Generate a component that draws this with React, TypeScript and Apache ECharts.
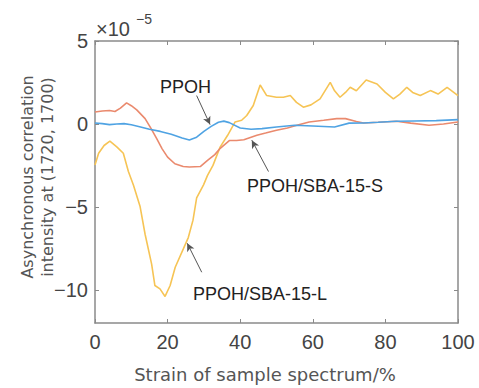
import React, { useEffect, useRef } from "react";
import * as echarts from "echarts";

const xTicks = [0, 20, 40, 60, 80, 100];
const yTicks = [-10, -5, 0, 5];

const ppohX = [0, 2, 4, 6, 8, 10, 12, 15, 18, 21, 24, 26, 28, 30, 32, 34, 35.5, 37, 40, 43, 46, 50, 55, 60, 66, 70, 74, 78, 83, 88, 94, 100];
const ppohY = [0.06, 0.02, -0.04, 0.0, 0.02, -0.05, -0.15, -0.32, -0.45, -0.62, -0.85, -0.97, -0.8, -0.45, -0.15, 0.1, 0.17, 0.08, -0.24, -0.32, -0.28, -0.18, -0.08, -0.12, -0.18, 0.05, 0.06, 0.1, 0.16, 0.18, 0.2, 0.26];

const sX = [0, 2, 4, 5.5, 7, 8.7, 10, 11.5, 13.8, 15.5, 17, 18.5, 20, 22, 24.3, 26, 29, 31, 33, 34.5, 37, 39, 41, 44.6, 47, 50, 53, 55.6, 59, 63, 66.6, 69, 72, 74, 78, 83, 87, 92, 96, 100];
const sY = [0.72, 0.78, 0.81, 0.75, 0.95, 1.27, 1.1, 0.85, 0.32, -0.3, -0.88, -1.5, -2.0, -2.4, -2.57, -2.6, -2.57, -2.2, -1.85, -1.47, -1.0, -1.0, -0.95, -0.68, -0.55, -0.38, -0.25, -0.08, 0.12, 0.22, 0.32, 0.32, 0.15, 0.06, 0.1, 0.16, 0.05, -0.08, 0.0, 0.12];

const lX = [0, 1, 2.5, 4.1, 6, 7.8, 9.2, 10.6, 12.4, 13.8, 15.6, 16.5, 17.9, 19.3, 20.7, 22.1, 24.3, 25.7, 27, 28, 29.9, 31, 32.5, 34.5, 36.5, 38.6, 40.4, 41.8, 43.6, 45.5, 47.3, 50, 51.9, 53.8, 55.5, 57.4, 59.5, 62, 64.8, 66, 67.5, 69, 70.3, 72, 74.7, 77.7, 80, 82.2, 84, 85.9, 87.5, 89.6, 92.4, 94.5, 97, 100];
const lY = [-2.47, -1.77, -1.3, -1.04, -1.38, -1.77, -2.87, -3.7, -4.96, -6.65, -8.45, -9.74, -9.94, -10.4, -9.74, -8.64, -7.55, -6.85, -5.8, -4.46, -3.67, -3.1, -2.5, -1.38, -0.7, 0.12, 0.22, 0.51, 1.11, 2.35, 1.71, 1.61, 1.61, 1.71, 1.3, 1.01, 1.15, 1.51, 2.51, 2.0, 1.61, 1.9, 2.21, 2.0, 2.65, 2.41, 1.9, 1.51, 1.8, 2.21, 1.9, 1.71, 2.01, 1.8, 2.21, 1.71];

const zip = (xs: number[], ys: number[]) => xs.map((x, i) => [x, ys[i]]);

const AXIS = "#8a8a8a";
const LABEL = "#444";
const ARROW = "#555";

function arrow(from: number[], to: number[]) {
  return {
    silent: true,
    symbol: ["none", "arrow"],
    symbolSize: [6, 8],
    label: { show: false },
    lineStyle: { color: ARROW, width: 1, type: "solid" },
    data: [[{ coord: from }, { coord: to }]],
  };
}

export default function App() {
  const ref = useRef<HTMLDivElement>(null);
  useEffect(() => {
    document.body.style.margin = "0";
    const chart = echarts.init(ref.current!, null, { renderer: "svg" });
    const tickFmt = (v: number) => String(v).replace("-", "\u2212");
    const baseX = {
      type: "value",
      min: 0,
      max: 100,
      interval: 20,
      splitLine: { show: false },
      axisLine: { show: true, onZero: false, lineStyle: { color: AXIS, width: 1.5 } },
      axisTick: { show: true, inside: true, length: 4, lineStyle: { color: AXIS } },
    };
    const baseY = {
      type: "value",
      min: -12,
      max: 5,
      splitLine: { show: false },
      axisLine: { show: true, onZero: false, lineStyle: { color: AXIS, width: 1.5 } },
      axisTick: { show: true, inside: true, length: 4, customValues: yTicks, lineStyle: { color: AXIS } },
    };
    chart.setOption({
      animation: false,
      backgroundColor: "#fff",
      grid: { left: 95, top: 41, right: 21, bottom: 62, containLabel: false },
      xAxis: [
        {
          ...baseX,
          position: "bottom",
          name: "Strain of sample spectrum/%",
          nameLocation: "middle",
          nameGap: 42,
          nameTextStyle: { fontFamily: "DejaVu Sans", fontSize: 18, color: "#555", padding: [0, 23, 0, 0] },
          axisLabel: {
            show: true,
            margin: 9,
            fontSize: 20,
            color: LABEL,
            fontFamily: "Liberation Sans",
            customValues: xTicks,
          },
        },
        { ...baseX, position: "top", axisLabel: { show: false } },
      ],
      yAxis: [
        {
          ...baseY,
          position: "left",
          axisLabel: {
            show: true,
            margin: 7,
            fontSize: 20,
            color: LABEL,
            fontFamily: "Liberation Sans",
            customValues: yTicks,
            formatter: tickFmt,
          },
        },
        { ...baseY, position: "right", axisLabel: { show: false } },
      ],
      series: [
        {
          name: "PPOH",
          type: "line",
          data: zip(ppohX, ppohY),
          showSymbol: false,
          lineStyle: { color: "#4fa3e3", width: 1.6 },
          itemStyle: { color: "#4fa3e3" },
          markLine: arrow([28.0, 1.71], [31.7, -0.04]),
          z: 4,
        },
        {
          name: "PPOH/SBA-15-S",
          type: "line",
          data: zip(sX, sY),
          showSymbol: false,
          lineStyle: { color: "#ea8a6e", width: 1.6 },
          itemStyle: { color: "#ea8a6e" },
          markLine: arrow([47.8, -2.87], [43.2, -0.98]),
          z: 3,
        },
        {
          name: "PPOH/SBA-15-L",
          type: "line",
          data: zip(lX, lY),
          showSymbol: false,
          lineStyle: { color: "#f6c455", width: 1.6 },
          itemStyle: { color: "#f6c455" },
          markLine: arrow([29.4, -8.94], [25.4, -7.19]),
          z: 2,
        },
      ],
      graphic: [
        {
          type: "text",
          x: 37,
          y: 177,
          rotation: Math.PI / 2,
          style: {
            text: "Asynchronous correlation\nintensity at (1720, 1700)",
            fontSize: 16,
            lineHeight: 20,
            fill: "#555",
            fontFamily: "DejaVu Sans",
            align: "center",
            verticalAlign: "middle",
          },
        },
        {
          type: "text",
          left: 96,
          top: 19,
          style: { text: "\u00d710", fontSize: 20, fill: LABEL, fontFamily: "Liberation Sans" },
        },
        {
          type: "text",
          left: 136,
          top: 12,
          style: { text: "\u22125", fontSize: 14, fill: LABEL, fontFamily: "Liberation Sans" },
        },
        {
          type: "text",
          left: 160,
          top: 78,
          style: { text: "PPOH", fontSize: 18, fill: "#222", fontFamily: "Liberation Sans" },
        },
        {
          type: "text",
          left: 247,
          top: 177,
          style: { text: "PPOH/SBA-15-S", fontSize: 18, fill: "#222", fontFamily: "Liberation Sans" },
        },
        {
          type: "text",
          left: 193,
          top: 285,
          style: { text: "PPOH/SBA-15-L", fontSize: 18, fill: "#222", fontFamily: "Liberation Sans" },
        },
      ],
    });
    return () => chart.dispose();
  }, []);
  return <div ref={ref} style={{ width: 479, height: 388 }} />;
}
